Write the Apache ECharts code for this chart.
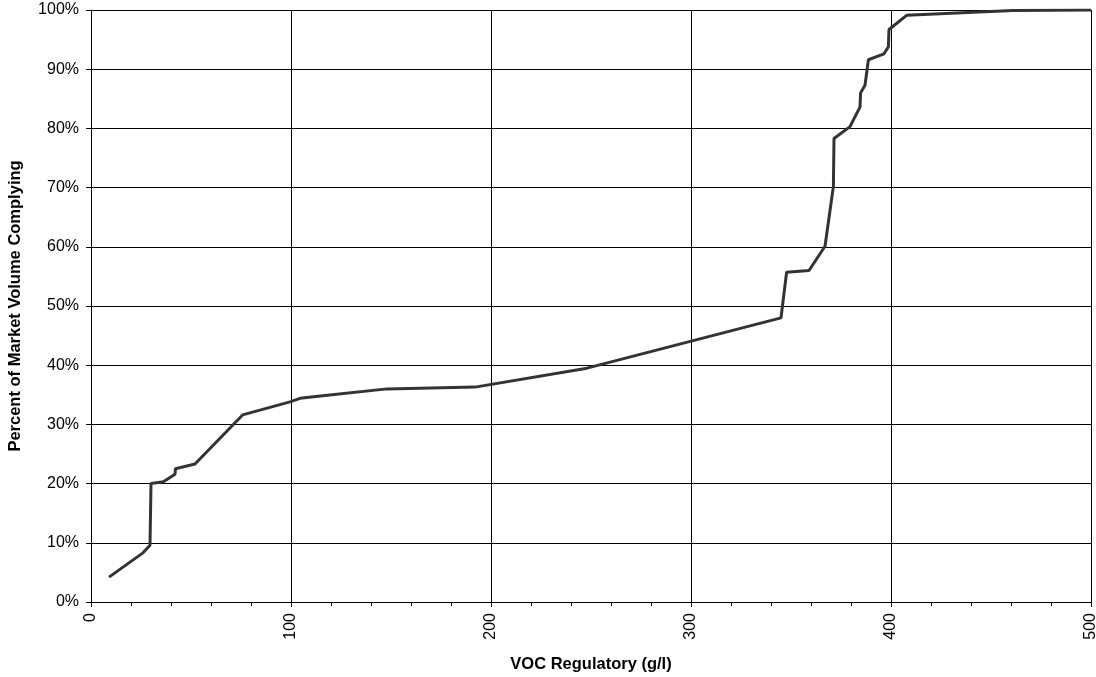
<!DOCTYPE html>
<html><head><meta charset="utf-8">
<script src="https://cdn.jsdelivr.net/npm/echarts@6/dist/echarts.min.js"></script>
<style>html,body{margin:0;padding:0;background:#fff}#c{width:1096px;height:677px}</style>
</head><body><div id="c"></div>
<script>
const vocValues = [9, 26, 29.5, 30, 36.2, 42, 42.2, 52, 75.8, 99.5, 104.5, 117, 148, 192, 248, 345, 347.8, 359, 367, 371.2, 371.5, 379.5, 382.8, 384.5, 384.8, 387, 388.7, 396.5, 398.7, 399, 407.8, 461, 500];
const percentComplying = [4.2, 8.3, 9.6, 20.0, 20.3, 21.6, 22.5, 23.3, 31.6, 33.8, 34.4, 34.9, 36.0, 36.3, 39.5, 48.0, 55.7, 56.0, 60.1, 70.2, 78.3, 80.3, 82.5, 83.6, 86.0, 87.3, 91.6, 92.6, 93.8, 96.7, 99.1, 99.9, 100];
const xTickLabels = ['0', '100', '200', '300', '400', '500'];
const yTickLabels = ['0%', '10%', '20%', '30%', '40%', '50%', '60%', '70%', '80%', '90%', '100%'];
const xAxisTitle = 'VOC Regulatory (g/l)';
const yAxisTitle = 'Percent of Market Volume Complying';

const chart = echarts.init(document.getElementById('c'), null, {renderer: 'canvas'});
const font = 'Liberation Sans, Arial, sans-serif';
chart.setOption({
  animation: false,
  backgroundColor: '#fff',
  grid: {left: 91, right: 5, top: 10, bottom: 75, containLabel: false, outerBoundsMode: 'none'},
  xAxis: {
    type: 'value', min: 0, max: 500, interval: 100,
    name: xAxisTitle, nameLocation: 'middle', nameGap: 54,
    nameTextStyle: {fontFamily: font, fontSize: 16.5, fontWeight: 'bold', color: '#000'},
    axisLine: {show: true, lineStyle: {color: '#000', width: 1}},
    axisTick: {show: true, length: 5, inside: false, lineStyle: {color: '#000'}},
    minorTick: {show: true, splitNumber: 5, length: 4, lineStyle: {color: '#000'}},
    splitLine: {show: true, lineStyle: {color: '#000', width: 1}},
    axisLabel: {rotate: 90, margin: 11, fontFamily: font, fontSize: 16, color: '#000',
      formatter: v => xTickLabels[Math.round(v / 100)]}
  },
  yAxis: {
    type: 'value', min: 0, max: 100, interval: 10,
    name: yAxisTitle, nameLocation: 'middle', nameGap: 67, nameRotate: 90,
    nameTextStyle: {fontFamily: font, fontSize: 16.5, fontWeight: 'bold', color: '#000'},
    axisLine: {show: true, lineStyle: {color: '#000', width: 1}},
    axisTick: {show: true, length: 5, inside: false, lineStyle: {color: '#000'}},
    splitLine: {show: true, lineStyle: {color: '#000', width: 1}},
    axisLabel: {margin: 12, fontFamily: font, fontSize: 16, color: '#000',
      formatter: v => yTickLabels[Math.round(v / 10)]}
  },
  series: [{
    type: 'line',
    data: vocValues.map((v, i) => [v, percentComplying[i]]),
    showSymbol: false, symbol: 'none',
    lineStyle: {color: '#333333', width: 3},
    smooth: false
  }]
});
</script></body></html>
